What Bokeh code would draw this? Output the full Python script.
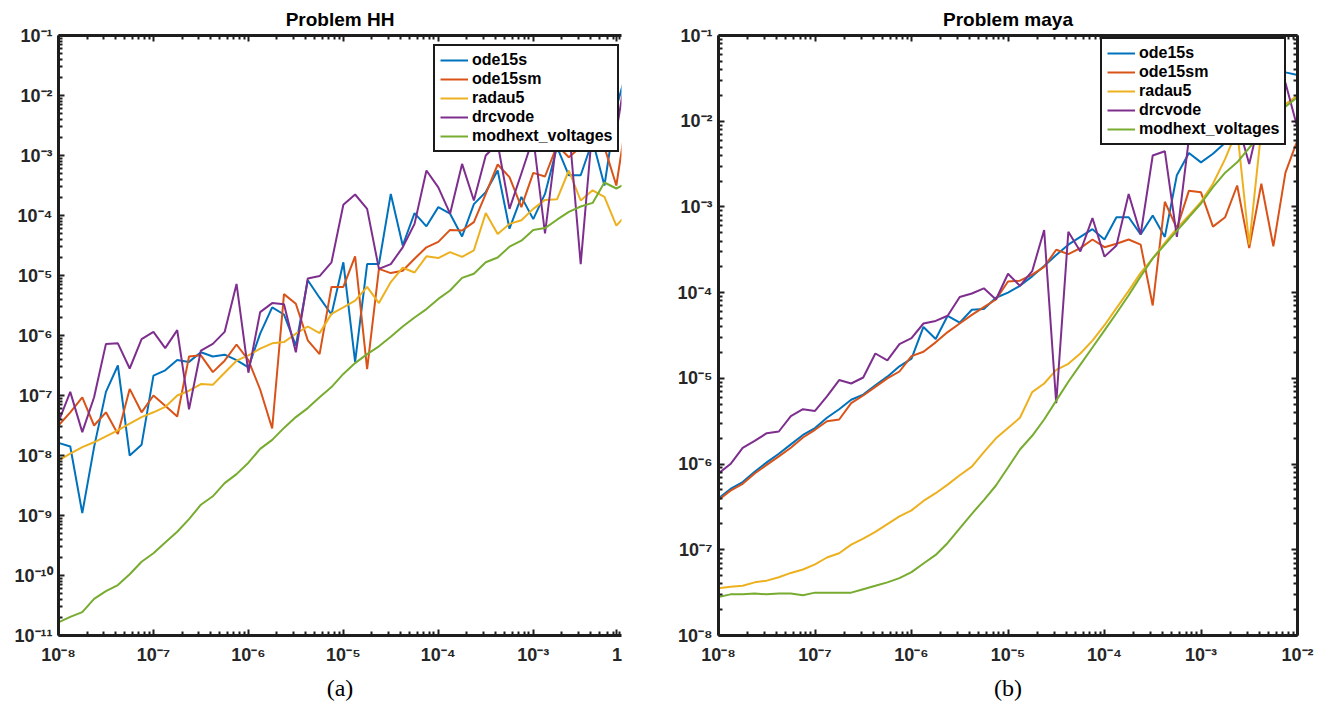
from bokeh.plotting import figure
from bokeh.models import (FixedTicker, LogAxis, CustomJSTickFormatter, Legend,
                          LegendItem, Range1d, Title)
from bokeh.layouts import row
from bokeh.embed import file_html
from bokeh.resources import INLINE

# ---------------- data (tolerance grid, 8 points per decade) ----------------
tolerances = [
    1.00e-8, 1.33e-8, 1.78e-8, 2.37e-8, 3.16e-8, 4.22e-8, 5.62e-8, 7.50e-8,
    1.00e-7, 1.33e-7, 1.78e-7, 2.37e-7, 3.16e-7, 4.22e-7, 5.62e-7, 7.50e-7,
    1.00e-6, 1.33e-6, 1.78e-6, 2.37e-6, 3.16e-6, 4.22e-6, 5.62e-6, 7.50e-6,
    1.00e-5, 1.33e-5, 1.78e-5, 2.37e-5, 3.16e-5, 4.22e-5, 5.62e-5, 7.50e-5,
    1.00e-4, 1.33e-4, 1.78e-4, 2.37e-4, 3.16e-4, 4.22e-4, 5.62e-4, 7.50e-4,
    1.00e-3, 1.33e-3, 1.78e-3, 2.37e-3, 3.16e-3, 4.22e-3, 5.62e-3, 7.50e-3,
    1.00e-2,
]

series_names = ["ode15s", "ode15sm", "radau5", "drcvode", "modhext_voltages"]
series_colors = ["#0072BD", "#D95319", "#EDB120", "#7E2F8E", "#77AC30"]

# errors, stored as log10(error)
hh_ode15s_log = [-7.79, -7.85, -8.96, -7.86, -6.94, -6.5, -8.0, -7.82, -6.67, -6.58,
                 -6.41, -6.44, -6.28, -6.35, -6.32, -6.41, -6.53, -5.97, -5.53, -5.65,
                 -6.17, -5.08, -5.37, -5.65, -4.78, -6.44, -4.81, -4.81, -3.64, -4.5,
                 -3.96, -4.18, -3.86, -3.97, -4.35, -3.81, -3.61, -3.25, -4.22, -3.69,
                 -4.06, -3.64, -2.86, -3.33, -3.33, -2.75, -3.5, -2.2, -1.5]
hh_ode15sm_log = [-7.5, -7.28, -7.03, -7.5, -7.28, -7.64, -6.89, -7.28, -7.0, -7.17,
                  -7.35, -6.35, -6.33, -6.61, -6.42, -6.15, -6.41, -6.9, -7.55, -5.31,
                  -5.47, -6.08, -6.31, -5.19, -5.19, -4.68, -6.56, -4.89, -4.96, -4.92,
                  -4.72, -4.53, -4.44, -4.24, -4.25, -4.11, -3.64, -3.15, -3.36, -3.86,
                  -3.29, -3.35, -2.83, -3.03, -2.86, -2.6, -2.86, -3.5, -2.2]
hh_radau5_log = [-8.08, -7.97, -7.86, -7.78, -7.68, -7.58, -7.47, -7.36, -7.28, -7.19,
                 -7.0, -6.92, -6.81, -6.82, -6.62, -6.42, -6.33, -6.22, -6.13, -6.11,
                 -5.97, -5.85, -5.96, -5.64, -5.53, -5.42, -5.19, -5.46, -5.11, -4.87,
                 -4.95, -4.68, -4.71, -4.61, -4.69, -4.58, -3.96, -4.31, -4.14, -4.08,
                 -3.89, -3.74, -3.73, -3.25, -3.75, -3.58, -3.69, -4.17, -3.95]
hh_drcvode_log = [-7.44, -6.94, -7.61, -7.03, -6.14, -6.13, -6.55, -6.06, -5.94, -6.21,
                  -5.91, -7.23, -6.25, -6.14, -5.94, -5.14, -6.62, -5.61, -5.46, -5.48,
                  -6.28, -5.05, -5.01, -4.78, -3.82, -3.65, -3.89, -4.89, -4.81, -4.53,
                  -4.14, -3.25, -3.53, -3.97, -3.14, -3.75, -3.0, -2.8, -3.89, -3.3,
                  -2.7, -4.3, -2.7, -2.5, -4.81, -2.5, -2.3, -2.6, -1.4]
hh_modhext_log = [-10.78, -10.69, -10.61, -10.39, -10.26, -10.16, -9.98, -9.77, -9.63, -9.45,
                  -9.27, -9.06, -8.82, -8.68, -8.46, -8.31, -8.12, -7.89, -7.74, -7.54,
                  -7.36, -7.21, -7.03, -6.86, -6.64, -6.46, -6.31, -6.18, -6.02, -5.85,
                  -5.70, -5.56, -5.39, -5.25, -5.04, -4.97, -4.78, -4.70, -4.52, -4.42,
                  -4.24, -4.21, -4.07, -3.94, -3.85, -3.79, -3.45, -3.55, -3.45]

maya_ode15s_log = [-6.4, -6.29, -6.21, -6.09, -5.98, -5.88, -5.77, -5.66, -5.58, -5.46,
                   -5.36, -5.25, -5.19, -5.08, -4.98, -4.86, -4.77, -4.4, -4.54, -4.27,
                   -4.35, -4.2, -4.19, -4.06, -4.0, -3.92, -3.81, -3.69, -3.56, -3.44,
                   -3.35, -3.26, -3.38, -3.12, -3.12, -3.32, -3.1, -3.35, -2.63, -2.37,
                   -2.48, -2.38, -2.25, -2.05, -1.85, -1.65, -1.48, -1.43, -1.46]
maya_ode15sm_log = [-6.42, -6.31, -6.23, -6.11, -6.01, -5.91, -5.81, -5.69, -5.6, -5.5,
                    -5.48, -5.29, -5.2, -5.1, -5.0, -4.92, -4.74, -4.69, -4.58, -4.46,
                    -4.36, -4.26, -4.17, -4.08, -3.87, -3.86, -3.79, -3.7, -3.5, -3.55,
                    -3.48, -3.38, -3.47, -3.43, -3.38, -3.44, -4.15, -2.94, -3.25, -2.81,
                    -2.83, -3.23, -3.12, -2.75, -3.48, -2.73, -3.46, -2.6, -2.22]
maya_radau5_log = [-7.45, -7.43, -7.42, -7.38, -7.36, -7.32, -7.27, -7.23, -7.17, -7.09,
                   -7.04, -6.94, -6.87, -6.79, -6.7, -6.61, -6.54, -6.43, -6.34, -6.24,
                   -6.13, -6.03, -5.86, -5.70, -5.58, -5.46, -5.16, -5.06, -4.9, -4.83,
                   -4.71, -4.56, -4.38, -4.18, -3.98, -3.77, -3.6, -3.42, -3.25, -3.1,
                   -2.94, -2.73, -2.44, -2.1, -3.44, -2.1, -1.95, -1.8, -1.7]
maya_drcvode_log = [-6.11, -6.0, -5.81, -5.73, -5.64, -5.62, -5.44, -5.36, -5.38, -5.21,
                    -5.02, -5.06, -4.99, -4.71, -4.79, -4.6, -4.53, -4.36, -4.33, -4.27,
                    -4.05, -4.01, -3.95, -4.08, -3.78, -3.92, -3.75, -3.27, -5.29, -3.29,
                    -3.52, -3.13, -3.58, -3.45, -2.85, -3.32, -2.4, -2.35, -3.35, -2.2,
                    -2.0, -2.1, -1.9, -2.0, -2.5, -1.9, -1.6, -1.55, -2.08]
maya_modhext_log = [-7.55, -7.52, -7.52, -7.51, -7.52, -7.51, -7.51, -7.53, -7.5, -7.5,
                    -7.5, -7.5, -7.46, -7.42, -7.38, -7.33, -7.26, -7.16, -7.06, -6.92,
                    -6.75, -6.58, -6.42, -6.25, -6.04, -5.83, -5.67, -5.48, -5.26, -5.04,
                    -4.84, -4.64, -4.44, -4.24, -4.03, -3.81, -3.6, -3.44, -3.28, -3.12,
                    -2.96, -2.77, -2.6, -2.48, -2.31, -2.15, -2.0, -1.83, -1.72]

hh_series = [hh_ode15s_log, hh_ode15sm_log, hh_radau5_log, hh_drcvode_log, hh_modhext_log]
maya_series = [maya_ode15s_log, maya_ode15sm_log, maya_radau5_log, maya_drcvode_log, maya_modhext_log]

# major tick positions (the last HH x tick carries the label "1")
hh_xticks = [1e-8, 1e-7, 1e-6, 1e-5, 1e-4, 1e-3, 7.6e-3]
hh_yticks = [1e-11, 1e-10, 1e-9, 1e-8, 1e-7, 1e-6, 1e-5, 1e-4, 1e-3, 1e-2, 1e-1]
maya_xticks = [1e-8, 1e-7, 1e-6, 1e-5, 1e-4, 1e-3, 1e-2]
maya_yticks = [1e-8, 1e-7, 1e-6, 1e-5, 1e-4, 1e-3, 1e-2, 1e-1]

AXIS_COLOR = "#1e1e1e"
FONT = "Liberation Sans"

fmt_code = """
const sup = {"-":"\\u207b","0":"\\u2070","1":"\\u00b9","2":"\\u00b2","3":"\\u00b3",
             "4":"\\u2074","5":"\\u2075","6":"\\u2076","7":"\\u2077","8":"\\u2078","9":"\\u2079"};
const l = Math.log10(tick);
const e = Math.round(l);
if (Math.abs(l - e) > 0.01) { return "1"; }
let s = "";
for (const c of String(e)) { s += sup[c]; }
return "10" + s;
"""


def minor_list(lo, hi):
    out = []
    for n in range(lo, hi):
        for m in range(2, 10):
            out.append(m * 10.0 ** n)
    return out


def style_axis(ax, show_labels=True, standoff=6):
    ax.axis_line_color = AXIS_COLOR
    ax.axis_line_width = 3
    ax.major_tick_line_color = AXIS_COLOR
    ax.minor_tick_line_color = AXIS_COLOR
    ax.major_tick_line_width = 2
    ax.minor_tick_line_width = 2
    ax.major_tick_in = 6
    ax.major_tick_out = 0
    ax.minor_tick_in = 4
    ax.minor_tick_out = 0
    ax.major_label_text_font = FONT
    ax.major_label_text_font_style = "bold"
    ax.major_label_text_color = "#262626"
    if show_labels:
        ax.major_label_text_font_size = "18px"
        ax.major_label_standoff = standoff
        ax.formatter = CustomJSTickFormatter(code=fmt_code)
    else:
        ax.major_label_text_font_size = "2px"
        ax.major_label_standoff = 0
        ax.formatter = CustomJSTickFormatter(code="return ' ';")


def make_panel(title, caption, series, xr, yr, xticks, xminor, yticks, yminor,
               width, mb, legend_loc, right_axis):
    p = figure(width=width, height=708, x_axis_type="log", y_axis_type="log",
               x_range=Range1d(*xr), y_range=Range1d(*yr),
               output_backend="svg", toolbar_location=None,
               min_border_left=mb[0], min_border_right=mb[1],
               min_border_top=mb[2], min_border_bottom=mb[3])
    p.background_fill_color = "white"
    p.border_fill_color = "white"
    p.outline_line_color = None
    p.xgrid.visible = False
    p.ygrid.visible = False

    p.title.text = title
    p.title.align = "center"
    p.title.text_font = FONT
    p.title.text_font_size = "19px"
    p.title.text_font_style = "bold"
    p.title.text_color = "black"
    p.title.standoff = 1

    p.xaxis.ticker = FixedTicker(ticks=xticks, minor_ticks=xminor)
    p.yaxis.ticker = FixedTicker(ticks=yticks, minor_ticks=yminor)
    for ax in p.xaxis:
        style_axis(ax, standoff=9)
    for ax in p.yaxis:
        style_axis(ax, standoff=6)

    top = LogAxis(ticker=FixedTicker(ticks=xticks, minor_ticks=xminor))
    style_axis(top, show_labels=False)
    p.add_layout(top, "above")
    if right_axis:
        rax = LogAxis(ticker=FixedTicker(ticks=yticks, minor_ticks=yminor))
        style_axis(rax, show_labels=False)
        p.add_layout(rax, "right")

    items = []
    for name, color, vals in zip(series_names, series_colors, series):
        yv = [10.0 ** v for v in vals]
        r = p.line(tolerances, yv, line_color=color, line_width=2)
        items.append(LegendItem(label=name, renderers=[r]))

    leg = Legend(items=items, location=legend_loc, padding=5, spacing=1,
                 label_height=18, glyph_height=18, glyph_width=28,
                 label_standoff=4, margin=0,
                 border_line_color="#1a1a1a", border_line_width=2.5,
                 border_line_alpha=1.0,
                 background_fill_color="white", background_fill_alpha=1.0,
                 label_text_font=FONT, label_text_font_style="bold",
                 label_text_font_size="16px", label_text_color="black")
    p.add_layout(leg)

    cap = Title(text=caption, align="center", text_font="Liberation Serif",
                text_font_size="24px", text_font_style="normal", text_color="black")
    p.add_layout(cap, "below")
    return p


p1 = make_panel("Problem HH", "(a)", hh_series,
                (1e-8, 8.5e-3), (1e-11, 1e-1),
                hh_xticks, minor_list(-8, -2), hh_yticks, minor_list(-11, -1),
                660, (58, 39, 35, 73), (375, 483), False)

p2 = make_panel("Problem maya", "(b)", maya_series,
                (1e-8, 1e-2), (1e-8, 1e-1),
                maya_xticks, minor_list(-8, -2), maya_yticks, minor_list(-8, -1),
                659, (58, 22, 28, 73), (382, 490), True)

layout = row(p1, p2)
open("out.html", "w").write(file_html(layout, INLINE))
